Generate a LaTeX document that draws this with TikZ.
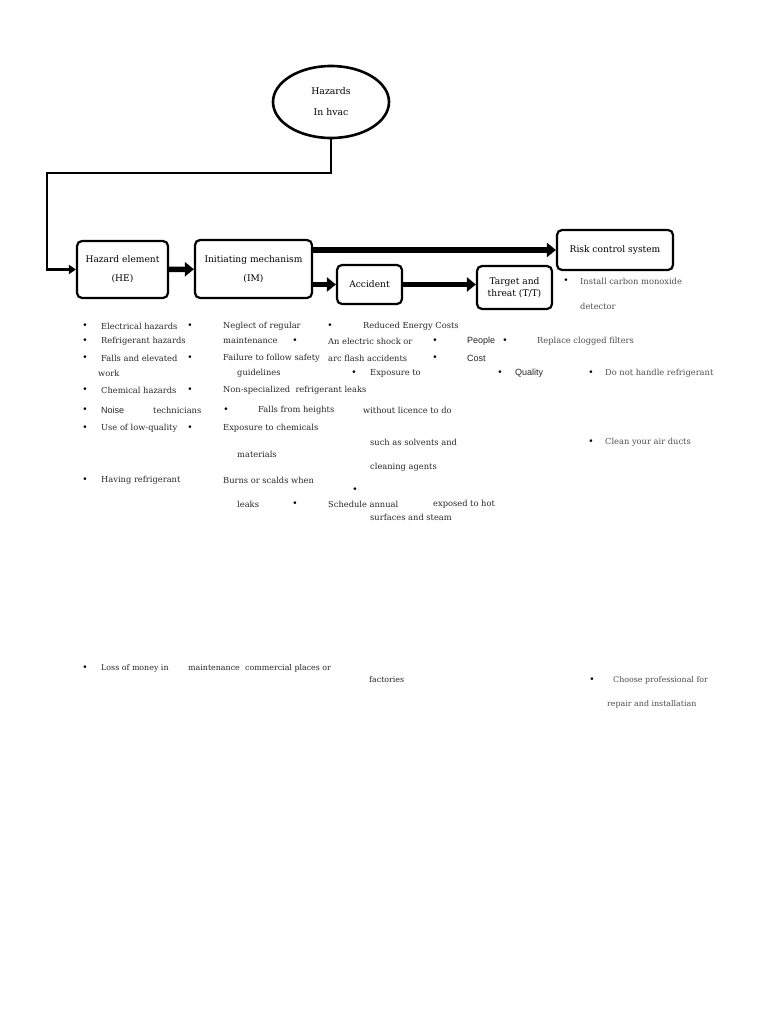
\documentclass[tikz,border=0pt]{standalone}
\usepackage{fontspec}
\setmainfont{DejaVu Serif}
\newfontfamily\sansfont{Liberation Sans}
\usepackage{xcolor}
\usetikzlibrary{arrows.meta,shapes.geometric}

\definecolor{note}{gray}{0.3}

\begin{document}
\begin{tikzpicture}[x=1pt,y=-1pt,
    box/.style={draw, rectangle, rounded corners=5pt, line width=2.2pt, align=center, font=\fontsize{9.1}{10}\selectfont},
    item/.style={anchor=west, inner sep=0pt, font=\fontsize{8.3}{10}\selectfont, text=black!85},
    small/.style={item, font=\fontsize{7.9}{10}\selectfont},
    sitem/.style={item, font=\fontsize{9}{10}\sansfont},
    gitem/.style={item, text=note},
    dot/.style={inner sep=0pt, font=\fontsize{9}{10}\selectfont},
    flow/.style={line width=5.5pt, -{Triangle[length=9pt,width=14pt]}}]
        \useasboundingbox (0,0) rectangle (768,1024);

        % Top ellipse
        \node[draw, ellipse, line width=2.6pt, minimum width=116pt, minimum height=72pt, align=center, font=\fontsize{9.3}{10}\selectfont] (hazards) at (331,102) {Hazards\\[11pt]In hvac};
        \coordinate (turn) at (47,173);

        % Chain of boxes
        \node[box, minimum width=91pt, minimum height=57pt] (he) at (122.5,269.5) {Hazard element\\[9pt](HE)};
        \node[box, minimum width=117pt, minimum height=58pt] (im) at (253.5,269) {Initiating mechanism\\[9pt](IM)};
        \node[box, minimum width=116pt, minimum height=40pt] (risk) at (615,250) {Risk control system};
        \node[box, minimum width=65pt, minimum height=39pt] (accident) at (369.5,284.5) {Accident};
        \node[box, minimum width=75pt, minimum height=43pt, align=center] (target) at (514.5,287.5) {Target and\\[2pt]threat (T/T)};

        % Arrows
        \draw[line width=2.2pt, -{Triangle[length=7pt,width=9pt]}] (hazards.south) |- (turn) |- (he.west);
        \draw[flow] (he) -- (im);
        \draw[flow] (im.east |- risk.west) -- (risk.west);
        \draw[flow] (im.east |- accident.west) -- (accident.west);
        \draw[flow] (accident.east) -- (accident.east -| target.west);

        % Bullets
        \foreach \x/\y [count=\i] in {85/326,85/341,85/358,85/390,85/410,85/428,85/480,85/668,
            190/326,295/341,190/358,354/373,190/390,226/410,190/428,355/490,295/504,
            330/326,435/341,505/341,435/358,500/373,591/373,591/442,566/281,592/680}
            \node[dot] (dot\i) at (\x,\y) {•};

        % Hazard element list
        \node[item] (he1) at (101,326) {Electrical hazards};
        \node[item] (he2) at (101,341) {Refrigerant hazards};
        \node[item] (he3) at (101,358) {Falls and elevated};
        \node[item] (he3b) at (98,373) {work};
        \node[item] (he4) at (101,390) {Chemical hazards};
        \node[sitem] (he5) at (101,410) {Noise};
        \node[item] (he5b) at (153,410) {technicians};
        \node[item] (he6) at (101,428) {Use of low-quality};
        \node[item] (he7) at (101,480) {Having refrigerant};
        \node[small] (he8) at (101,668) {Loss of money in};
        \node[small] (he8b) at (188,668) {maintenance};
        \node[small] (he8c) at (245,668) {commercial places or};
        \node[small] (he8d) at (369,680) {factories};

        % Initiating mechanism list
        \node[item] (im1) at (223,326) {Neglect of regular};
        \node[item] (im1b) at (223,341) {maintenance};
        \node[item] (im2) at (223,358) {Failure to follow safety};
        \node[item] (im2b) at (237,373) {guidelines};
        \node[item] (im3) at (223,390) {Non-specialized\ \ refrigerant leaks};
        \node[item] (im4) at (258,410) {Falls from heights};
        \node[item] (im4b) at (363,410) {without licence to do};
        \node[item] (im5) at (223,428) {Exposure to chemicals};
        \node[item] (im5b) at (237,454) {materials};
        \node[item] (im6) at (223,480) {Burns or scalds when};
        \node[item] (im6b) at (237,504) {leaks};
        \node[item] (im6c) at (433,504) {exposed to hot};
        \node[item] (im6d) at (370,517) {surfaces and steam};

        % Accident list
        \node[item] (ac1) at (363,326) {Reduced Energy Costs};
        \node[item] (ac2) at (328,341) {An electric shock or};
        \node[item] (ac2b) at (328,358) {arc flash accidents};
        \node[item] (ac3) at (370,373) {Exposure to};
        \node[item] (ac3b) at (370,442) {such as solvents and};
        \node[item] (ac3c) at (370,467) {cleaning agents};
        \node[item] (ac4) at (328,504) {Schedule annual};

        % Target list
        \node[sitem] (tt1) at (467,341) {People};
        \node[sitem] (tt2) at (467,358) {Cost};
        \node[sitem] (tt3) at (515,373) {Quality};

        % Risk control list
        \node[gitem] (rc1) at (580,281) {Install carbon monoxide};
        \node[gitem] (rc1b) at (580,306) {detector};
        \node[gitem] (rc2) at (537,341) {Replace clogged filters};
        \node[gitem] (rc3) at (605,373) {Do not handle refrigerant};
        \node[gitem] (rc4) at (605,442) {Clean your air ducts};
        \node[gitem, font=\fontsize{7.9}{10}\selectfont] (rc5) at (613,680) {Choose professional for};
        \node[gitem, font=\fontsize{7.9}{10}\selectfont] (rc5b) at (607,704) {repair and installatian};
    \end{tikzpicture}
\end{document}
